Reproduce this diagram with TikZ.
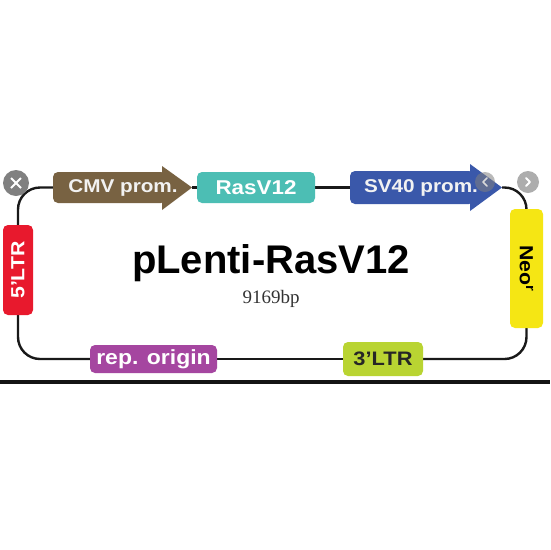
\documentclass[tikz,border=0pt]{standalone}
\usepackage{fontspec}
\usetikzlibrary{backgrounds}
\setmainfont{Liberation Sans}
\newfontfamily\lbl[FakeStretch=1.12]{Liberation Sans}
\newfontfamily\serifbp{Liberation Serif}
\definecolor{cmvc}{HTML}{786242}
\definecolor{rasc}{HTML}{4CBEB4}
\definecolor{svc}{HTML}{3A58AA}
\definecolor{neoc}{HTML}{F5E614}
\definecolor{ltrfc}{HTML}{E8192D}
\definecolor{repc}{HTML}{A546A0}
\definecolor{ltrtc}{HTML}{B9D432}
\begin{document}
\begin{tikzpicture}[x=1pt,y=-1pt,
  wire/.style={line width=2.4pt, black!90, rounded corners=22pt},
  part/.style={rectangle, rounded corners=5pt, inner sep=0pt, text=white, font=\lbl\bfseries},
  lab/.style={inner sep=0pt, text=white!95!black, font=\lbl\bfseries},
  uibtn/.style={circle, inner sep=0pt}]
\useasboundingbox (0,0) rectangle (550,550);

% parts
\node[part, fill=cmvc, minimum width=113pt, minimum height=31pt] (cmv) at (109.5,187.5) {};
\coordinate (cmvtip) at (192,187.5);
\fill[cmvc] (162,166) -- (cmvtip) -- (162,210) -- cycle;
\node[lab, font=\lbl\bfseries\fontsize{18.5}{20}\selectfont] (cmvt) at (123,188) {CMV prom.};

\node[part, fill=rasc, minimum width=118pt, minimum height=31pt, font=\lbl\bfseries\fontsize{20}{22}\selectfont] (ras) at (256,187.5) {RasV12};

\node[part, fill=svc, minimum width=124pt, minimum height=33pt] (sv) at (412,187.5) {};
\coordinate (svtip) at (502,187.5);
\fill[svc] (470,164) -- (svtip) -- (470,211) -- cycle;
\node[lab, font=\lbl\bfseries\fontsize{18.5}{20}\selectfont] (svt) at (421,187.5) {SV40 prom.};

\node[part, fill=neoc, minimum width=119pt, minimum height=33pt, text=black, font=\lbl\bfseries\fontsize{19}{20}\selectfont, rotate=-90] (neo) at (526.5,268.5) {Neo\textsuperscript{r}};
\node[part, fill=ltrfc, minimum width=30pt, minimum height=90pt] (ltrf) at (18,270) {};
\node[lab, rotate=90, font=\lbl\bfseries\fontsize{19}{21}\selectfont, text=white] (ltrft) at (ltrf) {5’LTR};
\node[part, fill=repc, minimum width=127pt, minimum height=28pt, font=\lbl\bfseries\fontsize{20.5}{22}\selectfont] (rep) at (153.5,359) {rep. origin};
\node[part, fill=ltrtc, minimum width=80pt, minimum height=34pt, text=black!85, font=\lbl\bfseries\fontsize{19.5}{21}\selectfont] (ltrt) at (383,359) {3’LTR};

% connectors (behind)
\begin{scope}[on background layer]
\fill[white] (0,0) rectangle (550,550);
\draw[wire] (ltrf.north) |- (cmv.west);
\draw[wire] (cmvtip) -- (ras.west);
\draw[wire] (ras.east) -- (sv.west);
\draw[wire] (svtip) -| (neo.west);
\draw[wire] (neo.east) |- (ltrt.east);
\draw[wire] (ltrt.west) -- (rep.east);
\draw[wire] (rep.west) -| (ltrf.south);
\end{scope}

% title
\node[anchor=base, inner sep=0pt, font=\bfseries\fontsize{40}{44}\selectfont] (title) at (271,273) {pLenti-RasV12};
\node[anchor=base, inner sep=0pt, font=\serifbp\fontsize{19}{21}\selectfont, text=black!80] (size) at (271,303) {9169bp};

% screenshot buttons
\node[uibtn, fill=black!50, minimum size=26pt] (close) at (16,183) {};
\draw[white, line width=2pt] ([shift={(-5,-5)}]close.center) -- ([shift={(5,5)}]close.center)
  ([shift={(-5,5)}]close.center) -- ([shift={(5,-5)}]close.center);
\node[uibtn, fill=gray, opacity=0.55, minimum size=20pt] (prev) at (485,182) {};
\draw[white!85!black, line width=1.5pt, line cap=round, line join=round] ([shift={(2,-4)}]prev.center) -- ([shift={(-2,0)}]prev.center) -- ([shift={(2,4)}]prev.center);
\node[uibtn, fill=black!32, minimum size=22pt] (next) at (528,182) {};
\draw[white, line width=1.8pt, line cap=round, line join=round] ([shift={(-2,-4)}]next.center) -- ([shift={(2,0)}]next.center) -- ([shift={(-2,4)}]next.center);

% bottom bar
\fill[black!92] (0,380) rectangle (550,384);
\end{tikzpicture}
\end{document}
